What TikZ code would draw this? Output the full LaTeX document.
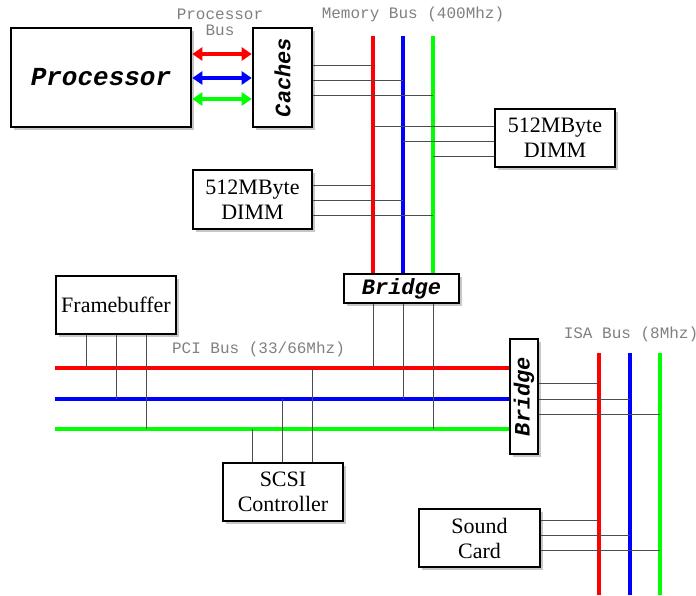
\documentclass[tikz,border=0pt]{standalone}
\usepackage{fontspec}
\setmainfont{Liberation Serif}
\newfontfamily\courierfont{Liberation Mono}
\usetikzlibrary{arrows.meta,shadows}
\definecolor{busred}{HTML}{FF0000}
\definecolor{busblue}{HTML}{0000FF}
\definecolor{busgreen}{HTML}{00FF00}
\tikzset{
  unit/.style={draw=black, line width=1.3pt, fill=white, inner sep=0pt,
    align=center, font=\fontsize{11}{12.5}\selectfont,
    drop shadow={shadow xshift=1.3pt, shadow yshift=-1.3pt, fill=black!22, opacity=1}},
  chip/.style={unit, font=\courierfont\bfseries\itshape\fontsize{11}{12}\selectfont},
  buslabel/.style={font=\courierfont\fontsize{8}{8}\selectfont, text=black!50,
    align=center, inner sep=0pt},
  busline/.style={line width=2.2pt},
  stub/.style={draw=black!70, line width=0.5pt},
  procarrow/.style={{Triangle[length=5pt,width=6.5pt]}-{Triangle[length=5pt,width=6.5pt]},
    line width=2pt}
}
\begin{document}
\begin{tikzpicture}[x=0.5pt, y=-0.5pt]
  \useasboundingbox (0,0) rectangle (696,595);

  % units
  \node[chip, minimum width=90pt, minimum height=49.5pt,
    font=\courierfont\bfseries\itshape\fontsize{13}{14}\selectfont] (proc) at (101,77.5) {Processor};
  \node[chip, minimum width=29.5pt, minimum height=49.5pt] (caches) at (282.5,77.5) {\rotatebox{90}{Caches}};
  \node[unit, minimum width=60pt, minimum height=29pt] (dimmA) at (555,138) {512MByte\\DIMM};
  \node[unit, minimum width=59.5pt, minimum height=29.5pt] (dimmB) at (252.5,199.5) {512MByte\\DIMM};
  \node[chip, minimum width=57.5pt, minimum height=14.5pt] (bridgeA) at (401.5,288.5) {Bridge};
  \node[unit, minimum width=60pt, minimum height=29pt] (fb) at (116,305) {Framebuffer};
  \node[unit, minimum width=60pt, minimum height=29pt] (scsi) at (283,492) {SCSI\\Controller};
  \node[chip, minimum width=14pt, minimum height=57.5pt] (bridgeB) at (524,396.5) {\rotatebox{90}{Bridge}};
  \node[unit, minimum width=60.5pt, minimum height=29pt] (sound) at (479.5,538) {Sound\\Card};

  % bus labels
  \node[buslabel] (pbus) at (220,22) {Processor\\Bus};
  \node[buslabel] (mbus) at (413,14) {Memory Bus (400Mhz)};
  \node[buslabel] (pcibus) at (258.5,349) {PCI Bus (33/66Mhz)};
  \node[buslabel] (isabus) at (631,334) {ISA Bus (8Mhz)};

  % bus ends
  \coordinate (mr) at (373,36);
  \coordinate (mb) at (403,36);
  \coordinate (mg) at (433,36);
  \coordinate (pr) at (55,368);
  \coordinate (pb) at (55,399);
  \coordinate (pg) at (55,429);
  \coordinate (ir) at (599,353);
  \coordinate (ib) at (630,353);
  \coordinate (ig) at (660,353);
  \coordinate (isaend) at (0,595);

  % processor bus
  \draw[procarrow, busred] (proc.east |- 0,54) -- (caches.west |- 0,54);
  \draw[procarrow, busblue] (proc.east |- 0,78) -- (caches.west |- 0,78);
  \draw[procarrow, busgreen] (proc.east |- 0,99) -- (caches.west |- 0,99);

  % memory bus
  \draw[busline, busred] (mr) -- (mr |- bridgeA.north);
  \draw[busline, busblue] (mb) -- (mb |- bridgeA.north);
  \draw[busline, busgreen] (mg) -- (mg |- bridgeA.north);

  % PCI bus
  \draw[busline, busred] (pr) -- (pr -| bridgeB.west);
  \draw[busline, busblue] (pb) -- (pb -| bridgeB.west);
  \draw[busline, busgreen] (pg) -- (pg -| bridgeB.west);

  % ISA bus
  \draw[busline, busred] (ir) -- (ir |- isaend);
  \draw[busline, busblue] (ib) -- (ib |- isaend);
  \draw[busline, busgreen] (ig) -- (ig |- isaend);

  % taps on the memory bus
  \draw[stub] (caches.east |- 0,65) -- (mr |- 0,65);
  \draw[stub] (caches.east |- 0,80) -- (mb |- 0,80);
  \draw[stub] (caches.east |- 0,95) -- (mg |- 0,95);
  \draw[stub] (mr |- 0,126) -- (dimmA.west |- 0,126);
  \draw[stub] (mb |- 0,141) -- (dimmA.west |- 0,141);
  \draw[stub] (mg |- 0,156) -- (dimmA.west |- 0,156);
  \draw[stub] (dimmB.east |- 0,185) -- (mr |- 0,185);
  \draw[stub] (dimmB.east |- 0,200) -- (mb |- 0,200);
  \draw[stub] (dimmB.east |- 0,215) -- (mg |- 0,215);

  % taps on the PCI bus
  \draw[stub] (mr |- bridgeA.south) -- (mr |- pr);
  \draw[stub] (mb |- bridgeA.south) -- (mb |- pb);
  \draw[stub] (mg |- bridgeA.south) -- (mg |- pg);
  \draw[stub] (fb.south -| 86,0) -- (pr -| 86,0);
  \draw[stub] (fb.south -| 116,0) -- (pb -| 116,0);
  \draw[stub] (fb.south -| 146,0) -- (pg -| 146,0);
  \draw[stub] (scsi.north -| 252,0) -- (pg -| 252,0);
  \draw[stub] (scsi.north -| 282,0) -- (pb -| 282,0);
  \draw[stub] (scsi.north -| 312,0) -- (pr -| 312,0);

  % taps on the ISA bus
  \draw[stub] (bridgeB.east |- 0,383) -- (ir |- 0,383);
  \draw[stub] (bridgeB.east |- 0,399) -- (ib |- 0,399);
  \draw[stub] (bridgeB.east |- 0,414) -- (ig |- 0,414);
  \draw[stub] (sound.east |- 0,520) -- (ir |- 0,520);
  \draw[stub] (sound.east |- 0,535) -- (ib |- 0,535);
  \draw[stub] (sound.east |- 0,550) -- (ig |- 0,550);
\end{tikzpicture}
\end{document}
